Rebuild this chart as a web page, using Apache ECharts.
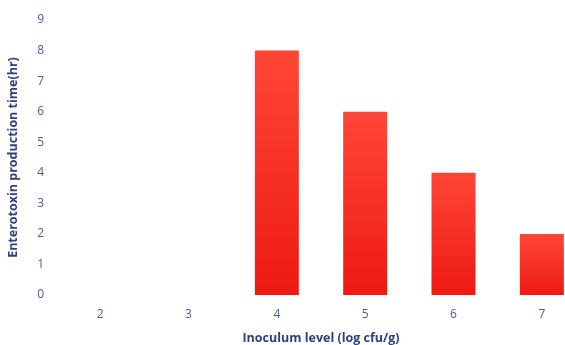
<!DOCTYPE html>
<html><head><meta charset="utf-8">
<script src="https://cdn.jsdelivr.net/npm/echarts@6/dist/echarts.min.js"></script>
<style>html,body{margin:0;padding:0;background:#fff}#c{width:565px;height:345px}</style>
</head><body><div id="c"></div>
<script>
const categories = ['2','3','4','5','6','7'];
const values = [0,0,8,6,4,2];
const yTicks = [0,1,2,3,4,5,6,7,8,9];
const chart = echarts.init(document.getElementById('c'));
chart.setOption({
  animation:false,
  grid:{left:56, top:20, width:530, height:275, containLabel:false, outerBoundsMode:'none'},
  xAxis:{type:'category', data:categories,
    name:'Inoculum level (log cfu/g)', nameLocation:'middle', nameGap:37,
    nameTextStyle:{color:'#2e3f7c', fontWeight:'bold', fontSize:12.5, fontFamily:'Open Sans'},
    axisLine:{show:false}, axisTick:{show:false},
    axisLabel:{color:'#4a5a9c', fontSize:12, fontFamily:'Open Sans', margin:14}},
  yAxis:{type:'value', min:0, max:9, interval:1,
    name:'Enterotoxin production time(hr)', nameLocation:'middle', nameGap:36,
    nameTextStyle:{color:'#2e3f7c', fontWeight:'bold', fontSize:12.5, fontFamily:'Open Sans'},
    axisLine:{show:false}, axisTick:{show:false}, splitLine:{show:false},
    axisLabel:{color:'#4a5a9c', fontSize:12, fontFamily:'Open Sans', margin:12,
      formatter:v=>yTicks.includes(v)?String(v):''}},
  series:[{type:'bar', data:values, barWidth:44,
    itemStyle:{color:new echarts.graphic.LinearGradient(0,0,0,1,[{offset:0,color:'#ff4636'},{offset:1,color:'#ee1a12'}])}}]
});
</script></body></html>
